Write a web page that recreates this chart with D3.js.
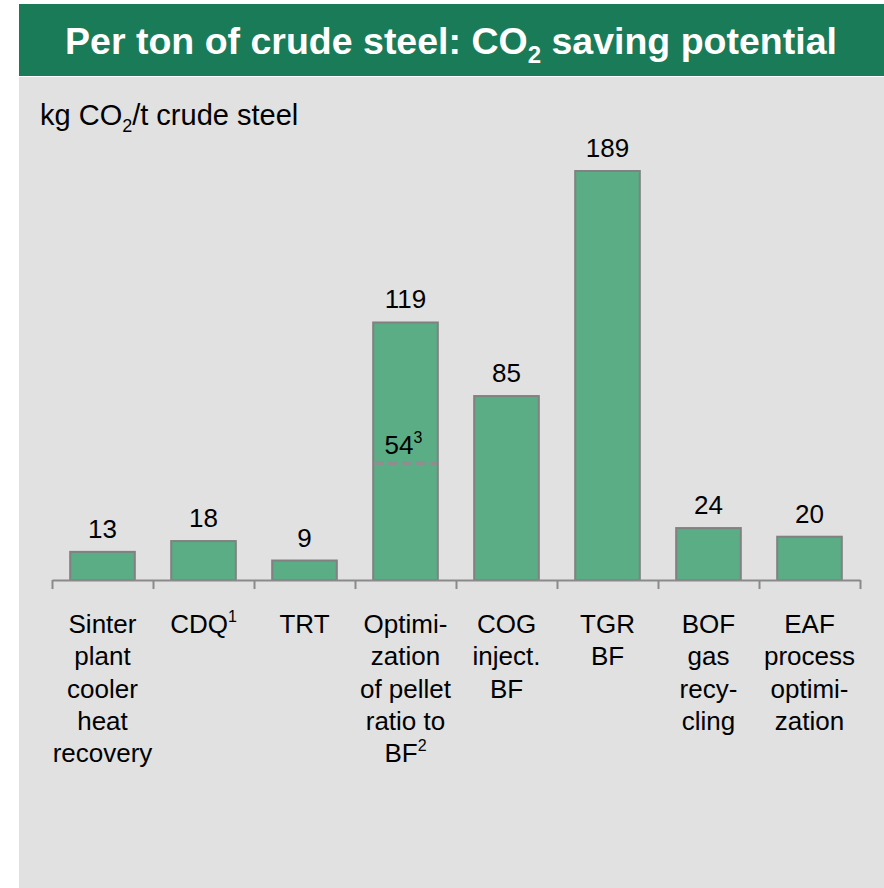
<!DOCTYPE html>
<html>
<head>
<meta charset="utf-8">
<script src="https://cdn.jsdelivr.net/npm/d3@7"></script>
<style>
  html, body { margin: 0; padding: 0; background: #ffffff; }
  svg { display: block; font-family: "Liberation Sans", Arial, sans-serif; }
</style>
</head>
<body>
<svg id="chart" width="884" height="888"></svg>
<script>
// Technologies along the x axis
const categories = ["Sinter", "CDQ", "TRT", "Pellet", "COG", "TGR", "BOF", "EAF"];
// Multi-line category labels; [text, superscript] pairs per line
const categoryLines = [
  [["Sinter"], ["plant"], ["cooler"], ["heat"], ["recovery"]],
  [["CDQ", "1"]],
  [["TRT"]],
  [["Optimi-"], ["zation"], ["of pellet"], ["ratio to"], ["BF", "2"]],
  [["COG"], ["inject."], ["BF"]],
  [["TGR"], ["BF"]],
  [["BOF"], ["gas"], ["recy-"], ["cling"]],
  [["EAF"], ["process"], ["optimi-"], ["zation"]]
];
// CO2 saving potential, kg CO2 per t crude steel
const values = [13, 18, 9, 119, 85, 189, 24, 20];
// Secondary (dashed) value shown inside the pellet-ratio bar
const markerCategory = "Pellet";
const markerValue = 54;
const markerNote = "3";

const svg = d3.select("#chart");
const W = 884, H = 888;

// Panel background and title bar
svg.append("rect").attr("x", 19).attr("y", 77).attr("width", W - 19).attr("height", H - 77)
  .attr("fill", "#e1e1e1");
svg.append("rect").attr("x", 19).attr("y", 4).attr("width", W - 19).attr("height", 72)
  .attr("fill", "#1a7b59");
const title = svg.append("text").attr("x", 451).attr("y", 54)
  .attr("text-anchor", "middle").attr("fill", "#ffffff")
  .attr("font-size", 37.5).attr("font-weight", "bold");
title.append("tspan").text("Per ton of crude steel: CO");
title.append("tspan").attr("font-size", 24).attr("dy", 9).text("2");
title.append("tspan").attr("dy", -9).text(" saving potential");

// Unit label
const unit = svg.append("text").attr("x", 40).attr("y", 125)
  .attr("fill", "#000").attr("font-size", 29);
unit.append("tspan").text("kg CO");
unit.append("tspan").attr("font-size", 18).attr("dy", 7).text("2");
unit.append("tspan").attr("dy", -7).text("/t crude steel");

// Scales
const x = d3.scaleBand().domain(categories).range([52, 860])
  .paddingInner(0.36).paddingOuter(0.18);
const y = d3.scaleLinear().domain([0, 189]).range([580, 171]);

// Bars
svg.append("g").selectAll("rect").data(categories).join("rect")
  .attr("x", d => x(d))
  .attr("y", (d, i) => y(values[i]))
  .attr("width", x.bandwidth())
  .attr("height", (d, i) => y(0) - y(values[i]))
  .attr("fill", "#5aad84")
  .attr("stroke", "#818181")
  .attr("stroke-width", 2);

// Value labels
svg.append("g").selectAll("text").data(categories).join("text")
  .attr("x", d => x(d) + x.bandwidth() / 2)
  .attr("y", (d, i) => y(values[i]) - 14)
  .attr("text-anchor", "middle")
  .attr("font-size", 26)
  .attr("fill", "#000")
  .text((d, i) => values[i]);

// Dashed marker inside the pellet bar
const mx = x(markerCategory);
svg.append("line")
  .attr("x1", mx + 1).attr("x2", mx + x.bandwidth() - 1)
  .attr("y1", y(markerValue)).attr("y2", y(markerValue))
  .attr("stroke", "#8e8e8e").attr("stroke-width", 3.5)
  .attr("stroke-dasharray", "9,5");
const ml = svg.append("text")
  .attr("x", mx + x.bandwidth() / 2 - 2).attr("y", y(markerValue) - 9)
  .attr("text-anchor", "middle").attr("font-size", 26).attr("fill", "#000");
ml.append("tspan").text(markerValue);
ml.append("tspan").attr("font-size", 16).attr("dy", -11).text(markerNote);

// Category axis: baseline with ticks between bands
const edges = d3.scaleLinear().domain([0, categories.length]).range([52, 860]);
const axis = svg.append("g").attr("transform", "translate(0,580)")
  .call(d3.axisBottom(edges).tickValues(d3.range(categories.length + 1))
    .tickSize(9).tickSizeOuter(0).tickFormat(""));
axis.select(".domain").attr("stroke", "#8a8a8a").attr("stroke-width", 2);
axis.selectAll(".tick line").attr("stroke", "#8a8a8a").attr("stroke-width", 2);

// Category labels
const lineH = 32.3;
const lab = svg.append("g").selectAll("text").data(categories).join("text")
  .attr("x", d => x(d) + x.bandwidth() / 2)
  .attr("y", 633)
  .attr("text-anchor", "middle")
  .attr("font-size", 26)
  .attr("fill", "#000");
lab.each(function(d, i) {
  const t = d3.select(this);
  const cx = x(d) + x.bandwidth() / 2;
  categoryLines[i].forEach((ln, j) => {
    t.append("tspan").attr("x", cx).attr("y", 633 + j * lineH).text(ln[0]);
    if (ln[1]) {
      t.append("tspan").attr("font-size", 16).attr("dy", -11).text(ln[1]);
    }
  });
});
</script>
</body>
</html>
